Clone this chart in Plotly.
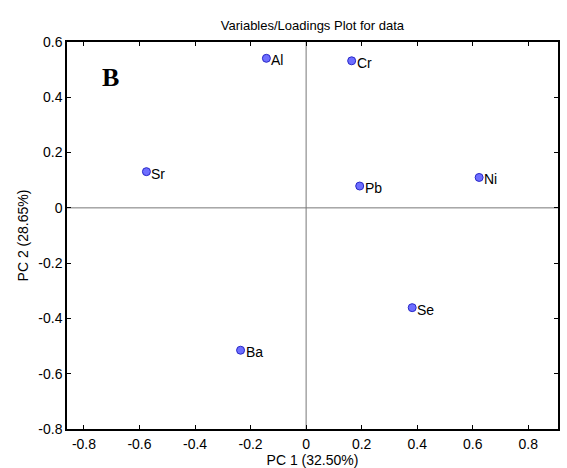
import plotly.graph_objects as go

variables = ["Al", "Cr", "Sr", "Pb", "Ni", "Se", "Ba"]
pc1 = [-0.143, 0.164, -0.575, 0.193, 0.623, 0.382, -0.236]
pc2 = [0.541, 0.532, 0.131, 0.079, 0.110, -0.361, -0.515]
x_ticks = [-0.8, -0.6, -0.4, -0.2, 0, 0.2, 0.4, 0.6, 0.8]
y_ticks = [0.6, 0.4, 0.2, 0, -0.2, -0.4, -0.6, -0.8]
x_tick_text = ["-0.8", "-0.6", "-0.4", "-0.2", "0", "0.2", "0.4", "0.6", "0.8"]
y_tick_text = ["0.6", "0.4", "0.2", "0", "-0.2", "-0.4", "-0.6", "-0.8"]

font = "Liberation Sans, Arial, sans-serif"

fig = go.Figure()
fig.add_trace(go.Scatter(
    x=pc1, y=pc2, mode="markers",
    marker=dict(size=8, color="rgb(110,110,255)", line=dict(color="rgb(40,40,200)", width=1)),
    showlegend=False, cliponaxis=False, hoverinfo="skip",
))
for name, xv, yv in zip(variables, pc1, pc2):
    fig.add_annotation(x=xv, y=yv, xref="x", yref="y", text=name, showarrow=False,
                       xanchor="left", yanchor="middle", xshift=3, yshift=-2,
                       font=dict(family=font, size=14, color="black"))

xr = [-0.861, 0.907]
yr = [-0.8, 0.6]
# zero reference lines
fig.add_shape(type="line", x0=xr[0], x1=xr[1], y0=0, y1=0, xref="x", yref="y",
              line=dict(color="rgb(120,120,120)", width=1), layer="below")
fig.add_shape(type="line", x0=0, x1=0, y0=yr[0], y1=yr[1], xref="x", yref="y",
              line=dict(color="rgb(120,120,120)", width=1), layer="below")

axis_common = dict(
    showgrid=False, zeroline=False, showline=True, linecolor="black", linewidth=1.5,
    mirror="ticks", ticks="inside", ticklen=4, tickcolor="black", automargin=False,
    tickfont=dict(family=font, size=14, color="black"),
)

fig.update_xaxes(range=xr, tickvals=x_ticks, ticktext=x_tick_text, ticklabelstandoff=1,
                 title=dict(text="PC 1 (32.50%)", font=dict(family=font, size=14, color="black"), standoff=11),
                 **axis_common)
fig.update_yaxes(range=yr, tickvals=y_ticks, ticktext=y_tick_text,
                 title=dict(text="PC 2 (28.65%)", font=dict(family=font, size=14, color="black"), standoff=6),
                 **axis_common)

fig.add_annotation(text="<b>B</b>", x=0.0886, y=0.907, xref="paper", yref="paper",
                   xanchor="center", yanchor="middle",
                   showarrow=False, font=dict(family="Liberation Serif, Times New Roman, serif", size=26, color="black"))
fig.update_layout(
    width=567, height=468,
    margin=dict(l=67, r=9, t=42, b=39),
    paper_bgcolor="white", plot_bgcolor="white",
    title=dict(text="Variables/Loadings Plot for data", x=0.551, xanchor="center", y=1 - 25.5 / 468, yanchor="middle",
               font=dict(family=font, size=13, color="black")),
)

fig.write_html("out.html", config={"displayModeBar": False},
               post_script="document.body.style.margin='0';document.body.style.overflow='hidden';")
